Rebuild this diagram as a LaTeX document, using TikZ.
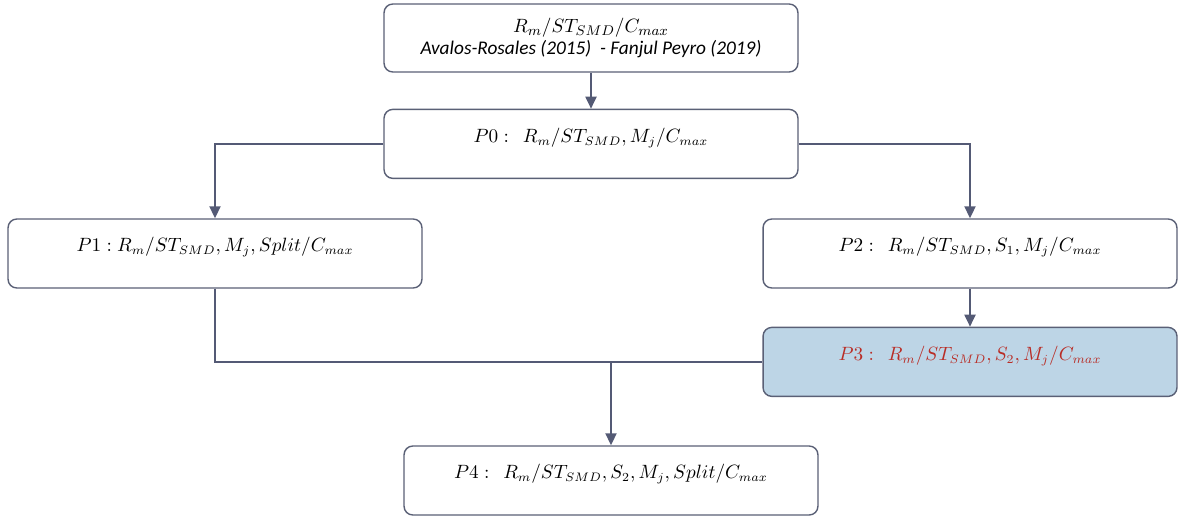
\documentclass[tikz,border=0pt]{standalone}
\usepackage{fontspec}
\newfontfamily\refsfont{Carlito}
\usepackage{tikz}
\usetikzlibrary{arrows.meta,positioning}
\definecolor{edgegray}{RGB}{84,90,117}
\definecolor{boxline}{RGB}{90,96,118}
\definecolor{hlfill}{RGB}{189,213,230}
\definecolor{hltext}{RGB}{185,45,38}
\newcommand{\cmaxx}{C_{max}}
\tikzset{
  prob/.style={
    draw=boxline,
    line width=0.8pt,
    rounded corners=5pt,
    fill=white,
    minimum width=8.28cm,
    minimum height=1.38cm,
    align=center,
    font=\fontsize{11}{13}\selectfont
  },
  oneline/.style={
    prob,
    font=\fontsize{10.5}{13}\selectfont,
    text height=8pt,
    text depth=10pt
  },
  hlprob/.style={
    oneline,
    fill=hlfill,
    text=hltext
  },
  flowarr/.style={-{Triangle[length=2.4mm,width=2.2mm]},draw=edgegray,line width=1.1pt},
  joinline/.style={draw=edgegray,line width=1.1pt}
}

\begin{document}
\begin{tikzpicture}[x=0.02cm,y=-0.02cm]
  \useasboundingbox (0,0) rectangle (1187,521);
  \node[prob,minimum height=1.36cm] (top) at (591,38) {$R_m/ST_{SMD}/\cmaxx$\\{\refsfont\itshape Avalos-Rosales (2015)~~- Fanjul Peyro (2019)}};
  \node[oneline,below=0.72cm of top] (p0) {$P0:\;\,R_m/ST_{SMD},M_j/\cmaxx$};
  \node[oneline] (p1) at (215,253.5) {$P1:R_m/ST_{SMD},M_j,Split/\cmaxx$};
  \node[oneline] (p2) at (970,253.5) {$P2:\;\,R_m/ST_{SMD},S_1,M_j/\cmaxx$};
  \node[hlprob,below=0.76cm of p2] (p3) {$P3:\;\,R_m/ST_{SMD},S_2,M_j/\cmaxx$};
  \node[oneline] (p4) at (611,480.5) {$P4:\;\,R_m/ST_{SMD},S_2,M_j,Split/\cmaxx$};
  \draw[flowarr] (top) -- (p0);
  \draw[flowarr] (p0.west) -| (p1.north);
  \draw[flowarr] (p0.east) -| (p2.north);
  \draw[flowarr] (p2) -- (p3);
  \draw[joinline] (p1.south) |- (p3.west);
  \coordinate (merge) at (p4.north |- p3.west);
  \draw[flowarr] (merge) -- (p4.north);
\end{tikzpicture}
\end{document}
